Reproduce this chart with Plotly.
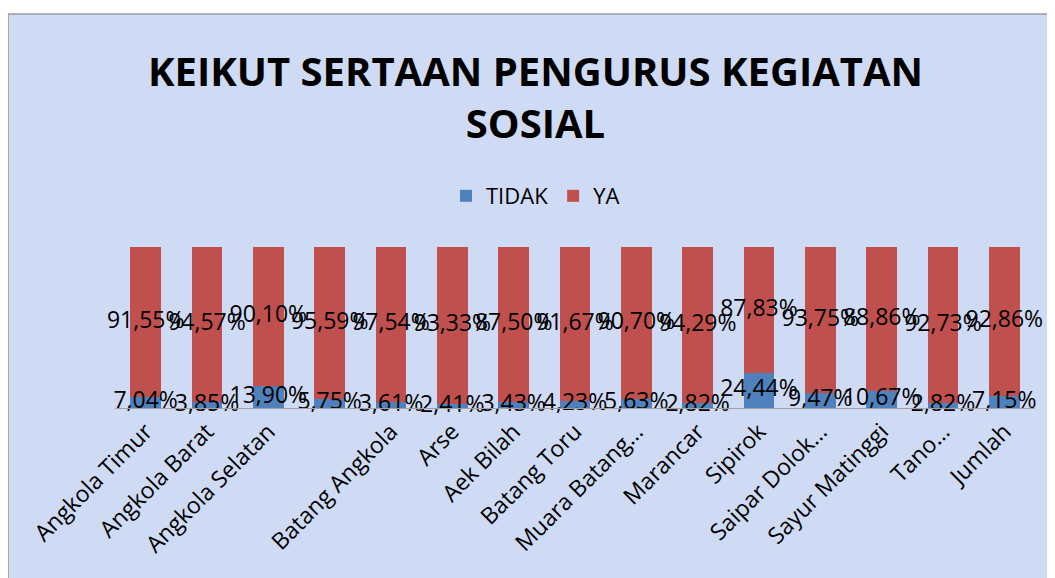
import plotly.graph_objects as go

categories = ["Angkola Timur", "Angkola Barat", "Angkola Selatan", "", "Batang Angkola",
              "Arse", "Aek Bilah", "Batang Toru", "Muara Batang…", "Marancar",
              "Sipirok", "Saipar Dolok…", "Sayur Matinggi", "Tano…", "Jumlah"]
tidak = [7.04, 3.85, 13.90, 5.75, 3.61, 2.41, 3.43, 4.23, 5.63, 2.82, 24.44, 9.47, 10.67, 2.82, 7.15]
ya = [91.55, 94.57, 90.10, 95.59, 97.54, 93.33, 87.50, 91.67, 90.70, 94.29, 87.83, 93.75, 88.86, 92.73, 92.86]

def fmt(v):
    return f"{v:.2f}".replace(".", ",") + "%"

xpos = list(range(len(categories)))
font = "Open Sans, Noto Sans, sans-serif"

# 100% stacked shares (same normalisation as barnorm="percent")
tidak_share = [t / (t + y) * 100 for t, y in zip(tidak, ya)]
tidak_mid = [s / 2 for s in tidak_share]
ya_mid = [(s + 100) / 2 for s in tidak_share]

fig = go.Figure()
fig.add_trace(go.Bar(x=xpos, y=tidak, name="TIDAK", marker_color="#4F81BD",
                     marker_line_width=0))
fig.add_trace(go.Bar(x=xpos, y=ya, name="YA", marker_color="#C0504D",
                     marker_line_width=0))
fig.add_trace(go.Scatter(x=xpos + xpos, y=ya_mid + tidak_mid, mode="text",
                         text=[fmt(v) for v in ya] + [fmt(v) for v in tidak],
                         textposition="middle center", showlegend=False, hoverinfo="skip",
                         textfont=dict(color="black", size=23, family=font), cliponaxis=False))

fig.update_layout(
    width=1055, height=578,
    barmode="stack", barnorm="percent", bargap=0.5,
    paper_bgcolor="white", plot_bgcolor="white",
    margin=dict(l=107, r=28, t=239, b=178),
    title=dict(text="<b>KEIKUT SERTAAN PENGURUS KEGIATAN<br>SOSIAL</b>",
               x=0.5, xanchor="center", y=0.865, yanchor="top",
               font=dict(size=40, family=font, color="black")),
    legend=dict(orientation="h", x=0.5, xanchor="center", xref="container",
                y=1 - 188 / 578, yref="container", yanchor="middle",
                font=dict(size=22, family=font, color="black"), bgcolor="rgba(0,0,0,0)",
                itemwidth=30, traceorder="normal"),
    xaxis=dict(tickmode="array", tickvals=xpos, ticktext=categories, tickangle=-45,
               tickfont=dict(size=23, family=font, color="black"), automargin=False,
               showline=True, linecolor="#a0a0a0", showgrid=False, ticks="",
               range=[-0.5, len(categories) - 0.5]),
    yaxis=dict(visible=False, range=[0, 100], automargin=False),
    showlegend=True,
    shapes=[dict(type="rect", xref="paper", yref="paper",
                 x0=-0.1163, x1=1.05, y0=-1.2, y1=2.447,
                 fillcolor="#cfdbf4", line=dict(color="#9a9a9a", width=1.5), layer="below")],
)
fig.write_html("out.html")
